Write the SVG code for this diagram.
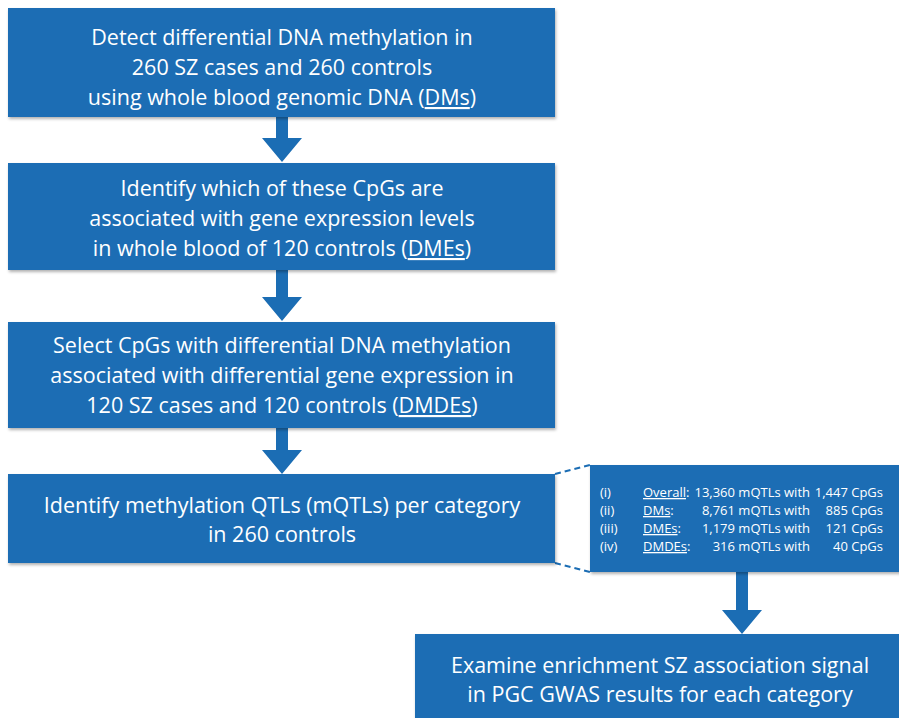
<svg xmlns="http://www.w3.org/2000/svg" width="899" height="718" viewBox="0 0 899 718">
<defs>
<style>
.box{fill:#1b6db4;filter:url(#sh)}
.t{font-family:"Open Sans","Liberation Sans",sans-serif;font-size:21.5px;fill:#fff;text-anchor:middle}
.s{font-family:"Open Sans","Liberation Sans",sans-serif;font-size:13px;fill:#fff}
.arr{fill:#1b6db4}
.dash{stroke:#1b6db4;stroke-width:2;stroke-dasharray:6,4;fill:none}
</style>
<filter id="sh" x="-5%" y="-5%" width="110%" height="120%">
<feDropShadow dx="1" dy="2" stdDeviation="1.5" flood-color="#000" flood-opacity="0.3"/>
</filter>
</defs>
<rect width="899" height="718" fill="#fff"/>
<g id="connectors">
<polygon class="arr" points="276,117 288,117 288,138 302,138 282,162 262,138 276,138"/>
<polygon class="arr" points="276,270 288,270 288,297 302,297 282,321 262,297 276,297"/>
<polygon class="arr" points="276,428 288,428 288,450 302,450 282,474 262,450 276,450"/>
<polygon class="arr" points="736,572 748,572 748,610 762,610 742,634 722,610 736,610"/>
<path class="dash" d="M555,474 L590,465 M555,563 L590,572"/>
</g>
<g id="n1">
<rect class="box" x="8" y="8" width="547" height="109"/>
<text class="t" x="282" y="45">Detect differential DNA methylation in</text>
<text class="t" x="282" y="75">260 SZ cases and 260 controls</text>
<text class="t" x="282" y="105">using whole blood genomic DNA (<tspan text-decoration="underline">DMs</tspan>)</text>
</g>
<g id="n2">
<rect class="box" x="8" y="163" width="547" height="107"/>
<text class="t" x="282" y="196">Identify which of these CpGs are</text>
<text class="t" x="282" y="226">associated with gene expression levels</text>
<text class="t" x="282" y="256">in whole blood of 120 controls (<tspan text-decoration="underline">DMEs</tspan>)</text>
</g>
<g id="n3">
<rect class="box" x="8" y="322" width="547" height="106"/>
<text class="t" x="282" y="353">Select CpGs with differential DNA methylation</text>
<text class="t" x="282" y="383">associated with differential gene expression in</text>
<text class="t" x="282" y="413">120 SZ cases and 120 controls (<tspan text-decoration="underline">DMDEs</tspan>)</text>
</g>
<g id="n4">
<rect class="box" x="8" y="474" width="547" height="89"/>
<text class="t" x="282" y="513">Identify methylation QTLs (mQTLs) per category</text>
<text class="t" x="282" y="542">in 260 controls</text>
</g>
<g id="n5">
<rect class="box" x="590" y="465" width="312" height="107"/>
<text class="s" x="600" y="497">(i)</text>
<text class="s" x="600" y="515">(ii)</text>
<text class="s" x="600" y="533">(iii)</text>
<text class="s" x="600" y="551">(iv)</text>
<text class="s" x="643" y="497"><tspan text-decoration="underline">Overall</tspan>:</text>
<text class="s" x="643" y="515"><tspan text-decoration="underline">DMs</tspan>:</text>
<text class="s" x="643" y="533"><tspan text-decoration="underline">DMEs</tspan>:</text>
<text class="s" x="643" y="551"><tspan text-decoration="underline">DMDEs</tspan>:</text>
<text class="s" x="810" y="497" text-anchor="end">13,360 mQTLs with</text>
<text class="s" x="810" y="515" text-anchor="end">8,761 mQTLs with</text>
<text class="s" x="810" y="533" text-anchor="end">1,179 mQTLs with</text>
<text class="s" x="810" y="551" text-anchor="end">316 mQTLs with</text>
<text class="s" x="883" y="497" text-anchor="end">1,447 CpGs</text>
<text class="s" x="883" y="515" text-anchor="end">885 CpGs</text>
<text class="s" x="883" y="533" text-anchor="end">121 CpGs</text>
<text class="s" x="883" y="551" text-anchor="end">40 CpGs</text>
</g>
<g id="n6">
<rect class="box" x="415" y="634" width="490" height="90"/>
<text class="t" x="660" y="673">Examine enrichment SZ association signal</text>
<text class="t" x="660" y="702">in PGC GWAS results for each category</text>
</g>
</svg>
